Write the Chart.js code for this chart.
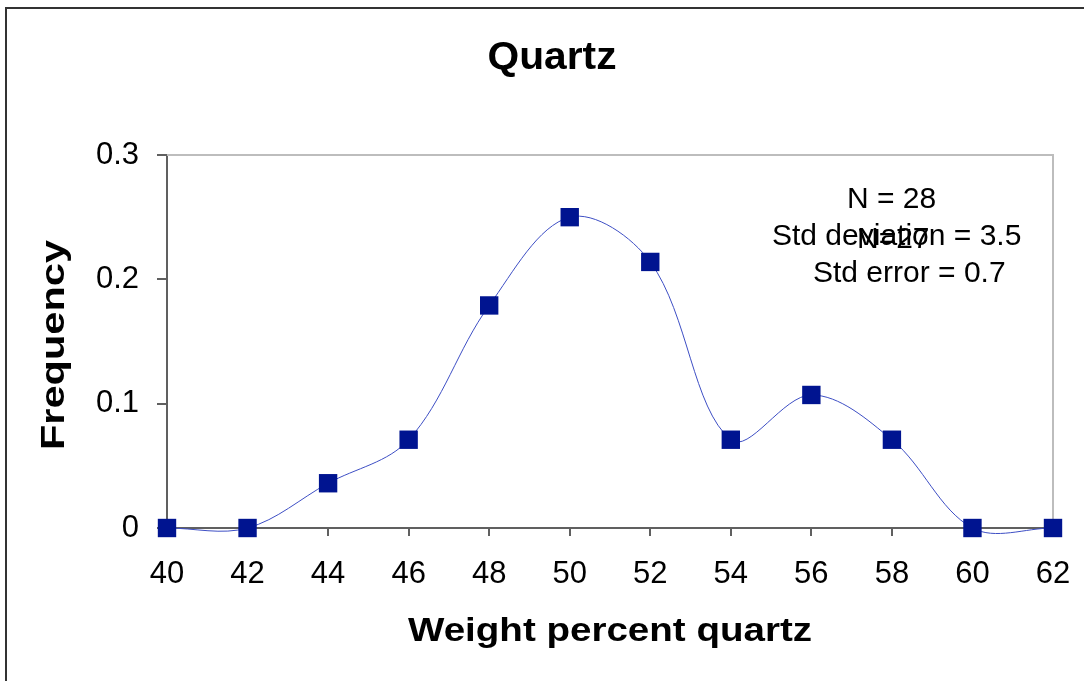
<!DOCTYPE html>
<html>
<head>
<meta charset="utf-8">
<title>Quartz</title>
<script src="https://cdn.jsdelivr.net/npm/chart.js@4"></script>
<style>
  html, body { margin: 0; padding: 0; background: #fff; }
  #frame {
    position: absolute; left: 5px; top: 7px; width: 1079px; height: 674px;
    border-top: 2px solid #333; border-left: 2px solid #333;
  }
  #chart { position: absolute; left: 0; top: 0; }
</style>
</head>
<body>
<div id="frame"></div>
<canvas id="chart" width="1084" height="681"></canvas>
<script>
const weightPct = [40, 42, 44, 46, 48, 50, 52, 54, 56, 58, 60, 62];
const frequency = [0, 0, 0.036, 0.071, 0.179, 0.25, 0.214, 0.071, 0.107, 0.071, 0, 0];
const yTickLabels = ['0', '0.1', '0.2', '0.3'];

const chartTitle = 'Quartz';
const xTitle = 'Weight percent quartz';
const yTitle = 'Frequency';
const statLines = [
  { text: 'N = 28', x: 847, y: 208 },
  { text: 'Std deviation = 3.5', x: 772, y: 245 },
  { text: 'N=27', x: 857, y: 248 },
  { text: 'Std error = 0.7', x: 813, y: 282 }
];

const FONT = '"Liberation Sans", Arial, sans-serif';

// bold text in the source is rendered wider than normal, so stretch it to a width
function drawWide(ctx, text, cx, baseline, size, width, rotate) {
  ctx.save();
  ctx.font = `bold ${size}px ${FONT}`;
  ctx.fillStyle = '#000';
  ctx.textAlign = 'center';
  ctx.textBaseline = 'alphabetic';
  const sx = width / ctx.measureText(text).width;
  if (rotate) {
    ctx.translate(baseline, cx);
    ctx.rotate(-Math.PI / 2);
  } else {
    ctx.translate(cx, baseline);
  }
  ctx.scale(sx, 1);
  ctx.fillText(text, 0, 0);
  ctx.restore();
}

const decorations = {
  id: 'decorations',
  beforeDatasetsDraw(chart) {
    const { ctx, chartArea: a } = chart;
    ctx.save();
    ctx.strokeStyle = '#bdbdbd';
    ctx.lineWidth = 2;
    ctx.beginPath();
    ctx.moveTo(a.left, a.top);
    ctx.lineTo(a.right, a.top);
    ctx.lineTo(a.right, a.bottom);
    ctx.stroke();
    ctx.restore();
  },
  afterDraw(chart) {
    const { ctx, chartArea: a } = chart;
    drawWide(ctx, chartTitle, 552, 69, 38, 129, false);
    drawWide(ctx, xTitle, (a.left + a.right) / 2, 641, 33, 404, false);
    drawWide(ctx, yTitle, 345, 64, 33, 210, true);

    ctx.save();
    ctx.font = `30px ${FONT}`;
    ctx.fillStyle = '#000';
    ctx.textAlign = 'left';
    ctx.textBaseline = 'alphabetic';
    statLines.forEach(s => ctx.fillText(s.text, s.x, s.y));
    ctx.restore();
  }
};

new Chart(document.getElementById('chart'), {
  type: 'line',
  data: {
    datasets: [{
      data: weightPct.map((x, i) => ({ x, y: frequency[i] })),
      borderColor: '#3d4ec4',
      borderWidth: 1,
      tension: 0.35,
      pointStyle: 'rect',
      pointRadius: 13,
      pointBackgroundColor: '#001490',
      pointBorderColor: '#001490',
      pointBorderWidth: 0,
      clip: false,
      fill: false
    }]
  },
  options: {
    responsive: false,
    animation: false,
    devicePixelRatio: 1,
    layout: { padding: { top: 155, right: 31, left: 0, bottom: 0 } },
    elements: { line: { capBezierPoints: false } },
    plugins: {
      legend: { display: false },
      tooltip: { enabled: false },
      title: { display: false }
    },
    scales: {
      x: {
        type: 'linear',
        min: 40,
        max: 62,
        afterFit: s => { s.height = 153; s.paddingLeft = 0; s.paddingRight = 0; },
        border: { color: '#606060', width: 2 },
        grid: { drawOnChartArea: false, drawTicks: true, tickLength: 8, color: '#606060', lineWidth: 2 },
        ticks: {
          stepSize: 2,
          padding: 20,
          color: '#000',
          font: { family: FONT, size: 31 },
          maxRotation: 0
        }
      },
      y: {
        min: 0,
        max: 0.3,
        afterFit: s => { s.width = 167; },
        border: { color: '#606060', width: 2 },
        grid: { drawOnChartArea: false, drawTicks: true, tickLength: 10, color: '#606060', lineWidth: 2 },
        ticks: {
          stepSize: 0.1,
          padding: 18,
          color: '#000',
          font: { family: FONT, size: 31 },
          callback: (v, i) => yTickLabels[i]
        }
      }
    }
  },
  plugins: [decorations]
});
</script>
</body>
</html>
